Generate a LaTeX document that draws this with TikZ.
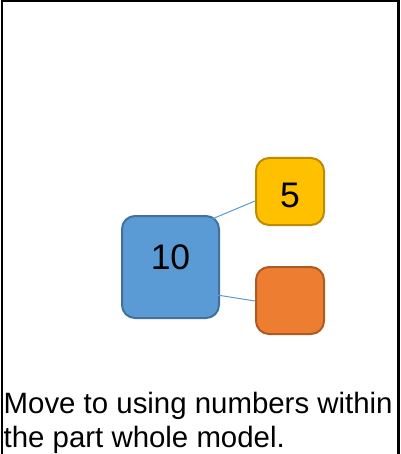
\documentclass[tikz,border=0pt]{standalone}
\usepackage{fontspec}
\setmainfont{Liberation Sans}
\definecolor{bluefill}{HTML}{5B9BD5}
\definecolor{blueline}{HTML}{41719C}
\definecolor{yelfill}{HTML}{FFC000}
\definecolor{yelline}{HTML}{BC8C00}
\definecolor{orfill}{HTML}{ED7D31}
\definecolor{orline}{HTML}{AE5A21}
\tikzset{
  box/.style={rectangle, rounded corners=13pt, line width=2pt, inner sep=0pt, anchor=north west},
  num/.style={font=\fontsize{35.5}{40}\selectfont, anchor=base, inner sep=0pt},
  caption/.style={font=\fontsize{29.4}{34}\selectfont, anchor=base west, inner sep=0pt},
  link/.style={draw=bluefill, line width=1pt},
  frame/.style={line width=2.6pt, black}
}
\begin{document}
\begin{tikzpicture}[x=1pt, y=-1pt]
\useasboundingbox (0,0) rectangle (400,454);
% frame (left, top, right)
\coordinate (fbl) at (1.8,455);
\coordinate (ftl) at (1.8,1);
\coordinate (ftr) at (398.7,1);
\coordinate (fbr) at (398.7,455);
\draw[frame] (fbl) -- (ftl) -- (ftr) -- (fbr);
% boxes
\node[box, draw=blueline, fill=bluefill, minimum width=97pt, minimum height=102pt] (whole) at (121,215) {};
\node[box, draw=yelline, fill=yelfill, minimum width=68pt, minimum height=67pt] (partA) at (255,157) {};
\node[box, draw=orline, fill=orfill, minimum width=68pt, minimum height=67pt] (partB) at (255,266) {};
% connectors
\coordinate (w1) at (212,219);
\coordinate (w2) at (217,295);
\draw[link] (w1) -- (partA.west |- 0,201);
\draw[link] (w2) -- (partB.west |- 0,301);
% numbers
\node[num] (tten) at (170.5,269.3) {10};
\node[num] (tfive) at (290,207.3) {5};
% caption
\node[caption] (cap1) at (3.5,413) {Move to using numbers within};
\node[caption] (cap2) at (3.5,447) {the part whole model.};
\end{tikzpicture}
\end{document}
